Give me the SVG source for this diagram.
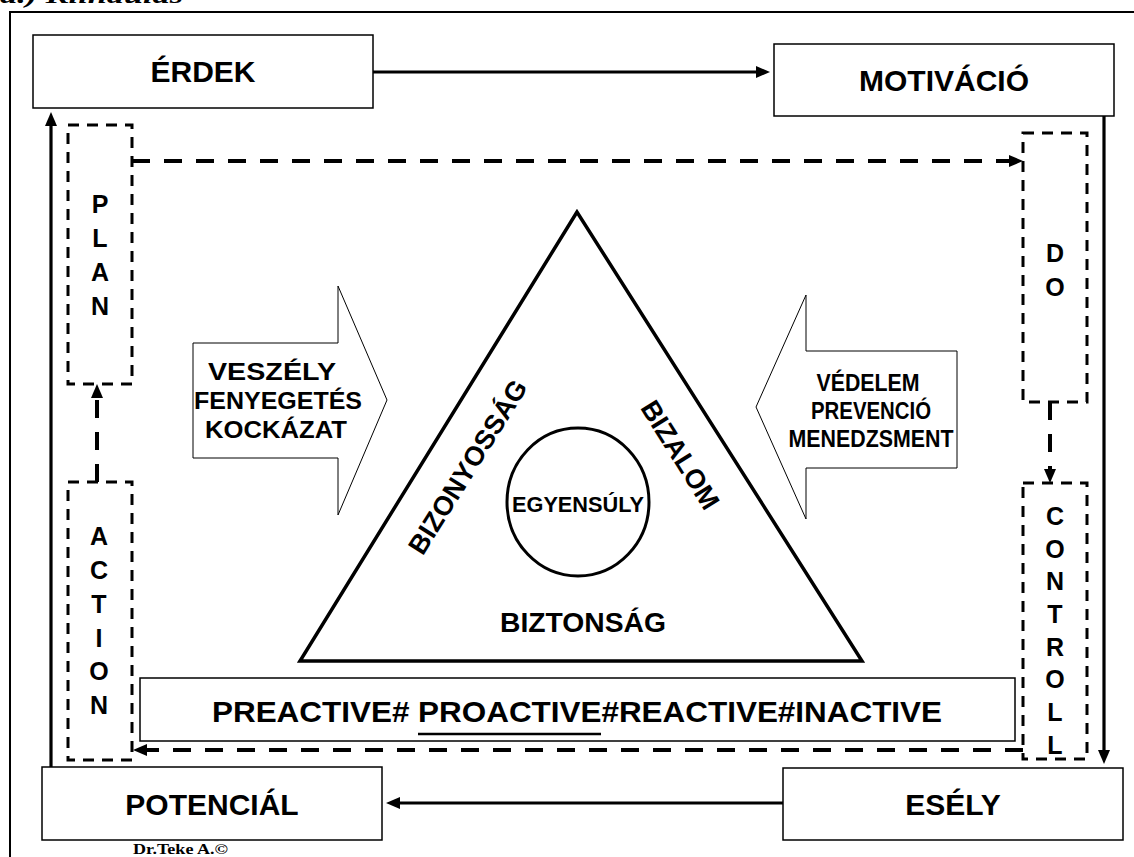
<svg xmlns="http://www.w3.org/2000/svg" width="1134" height="857" viewBox="0 0 1134 857">
<style>
  .box{fill:#fff;stroke:#000;stroke-width:1.5}
  .dbox{fill:none;stroke:#000;stroke-width:3;stroke-dasharray:11 8}
  .lbl{font-family:"Liberation Sans",Arial,sans-serif;font-weight:bold;fill:#000;text-anchor:middle}
  .big{font-size:30px}
  .vert{font-size:25px}
  .sol{fill:none;stroke:#000;stroke-width:3.2}
  .dsh{fill:none;stroke:#000;stroke-width:4;stroke-dasharray:18 14}
  .thin{fill:#fff;stroke:#000;stroke-width:1}
</style>
<defs>
  <marker id="ah" markerUnits="userSpaceOnUse" markerWidth="14" markerHeight="12" refX="6" refY="6" orient="auto">
    <path d="M0,0 L14,6 L0,12 z" fill="#000"/>
  </marker>
  <marker id="ahd" markerUnits="userSpaceOnUse" markerWidth="14" markerHeight="12" refX="6" refY="6" orient="auto">
    <path d="M0,0 L14,6 L0,12 z" fill="#000"/>
  </marker>
</defs>
<rect width="1134" height="857" fill="#fff"/>
<text x="0" y="3" font-family="Liberation Serif,serif" font-weight="bold" font-style="italic" font-size="24" textLength="183" lengthAdjust="spacingAndGlyphs">a.) Kiindulás</text>
<g id="frame"><path d="M10,857 L10,12 L1134,12" fill="none" stroke="#000" stroke-width="2"/></g>

<g id="connectors">
  <path class="sol" d="M373,72 L762,72" marker-end="url(#ah)"/>
  <path class="sol" d="M1104,116 L1104,756" marker-end="url(#ah)"/>
  <path class="sol" d="M783,803 L394,803" marker-end="url(#ah)"/>
  <path class="sol" d="M51,767 L51,120" marker-end="url(#ah)"/>
  <path class="dsh" d="M132,161 L1015,161" marker-end="url(#ahd)"/>
  <path class="dsh" d="M1050,402 L1050,475" marker-end="url(#ahd)"/>
  <path class="dsh" d="M1023,750 L141,750" marker-end="url(#ahd)"/>
  <path class="dsh" d="M97,482 L97,392" marker-end="url(#ahd)"/>
</g>

<g id="erdek"><rect class="box" x="33" y="35" width="340" height="73"/><text class="lbl big" x="203" y="82">ÉRDEK</text></g>
<g id="motivacio"><rect class="box" x="774" y="44" width="340" height="72"/><text class="lbl big" x="944" y="91">MOTIVÁCIÓ</text></g>
<g id="esely"><rect class="box" x="783" y="768" width="340" height="72"/><text class="lbl big" x="953" y="815">ESÉLY</text></g>
<g id="potencial"><rect class="box" x="42" y="767" width="340" height="73"/><text class="lbl big" x="212" y="815">POTENCIÁL</text></g>

<g id="plan"><rect class="dbox" x="68" y="125" width="64" height="259"/>
  <text class="lbl vert" x="100"><tspan x="100" y="213">P</tspan><tspan x="100" y="247">L</tspan><tspan x="100" y="281">A</tspan><tspan x="100" y="315">N</tspan></text></g>
<g id="do"><rect class="dbox" x="1023" y="133" width="64" height="269"/>
  <text class="lbl vert" x="1055"><tspan x="1055" y="262">D</tspan><tspan x="1055" y="296">O</tspan></text></g>
<g id="controll"><rect class="dbox" x="1023" y="483" width="64" height="276"/>
  <text class="lbl vert" x="1055"><tspan x="1055" y="525">C</tspan><tspan x="1055" y="558">O</tspan><tspan x="1055" y="590">N</tspan><tspan x="1055" y="623">T</tspan><tspan x="1055" y="656">R</tspan><tspan x="1055" y="688">O</tspan><tspan x="1055" y="721">L</tspan><tspan x="1055" y="754">L</tspan></text></g>
<g id="action"><rect class="dbox" x="68" y="482" width="64" height="278"/>
  <text class="lbl vert" x="99"><tspan x="99" y="545">A</tspan><tspan x="99" y="579">C</tspan><tspan x="99" y="613">T</tspan><tspan x="99" y="647">I</tspan><tspan x="99" y="680">O</tspan><tspan x="99" y="714">N</tspan></text></g>

<g id="veszely"><path class="thin" d="M193,343 L338,343 L338,286 L387,400 L338,515 L338,458 L193,458 z"/>
  <text class="lbl" font-size="24"><tspan x="272" y="380" textLength="128" lengthAdjust="spacingAndGlyphs">VESZÉLY</tspan><tspan x="278" y="409" textLength="168" lengthAdjust="spacingAndGlyphs">FENYEGETÉS</tspan><tspan x="276" y="438" textLength="142" lengthAdjust="spacingAndGlyphs">KOCKÁZAT</tspan></text></g>
<g id="vedelem"><path class="thin" d="M957,351 L806,351 L806,295 L756,407 L806,519 L806,468 L957,468 z"/>
  <text class="lbl" font-size="23"><tspan x="868" y="391" textLength="103" lengthAdjust="spacingAndGlyphs">VÉDELEM</tspan><tspan x="871" y="419" textLength="120" lengthAdjust="spacingAndGlyphs">PREVENCIÓ</tspan><tspan x="871" y="447" textLength="165" lengthAdjust="spacingAndGlyphs">MENEDZSMENT</tspan></text></g>

<g id="triangle"><path d="M577,212 L300,661 L862,661 z" fill="none" stroke="#000" stroke-width="3.5"/>
  <text class="lbl" font-size="27" transform="translate(468,467) rotate(-58)" y="9">BIZONYOSSÁG</text>
  <text class="lbl" font-size="27" transform="translate(680,455) rotate(58)" y="9">BIZALOM</text>
  <text class="lbl" font-size="27" x="583" y="632" textLength="166" lengthAdjust="spacingAndGlyphs">BIZTONSÁG</text></g>
<g id="egyensuly"><ellipse cx="578" cy="502" rx="71" ry="74" fill="none" stroke="#000" stroke-width="3"/>
  <text class="lbl" font-size="22" x="578" y="512" textLength="132" lengthAdjust="spacingAndGlyphs">EGYENSÚLY</text></g>

<g id="preactive"><rect class="box" x="140" y="678" width="875" height="63"/>
  <text class="lbl" font-size="30" x="577" y="722" textLength="730" lengthAdjust="spacingAndGlyphs">PREACTIVE# PROACTIVE#REACTIVE#INACTIVE</text>
  <line x1="418" y1="734" x2="601" y2="734" stroke="#000" stroke-width="2.5"/></g>

<text x="133" y="854" font-family="Liberation Serif,serif" font-weight="bold" font-size="15" textLength="95" lengthAdjust="spacingAndGlyphs">Dr.Teke A.©</text>
</svg>
